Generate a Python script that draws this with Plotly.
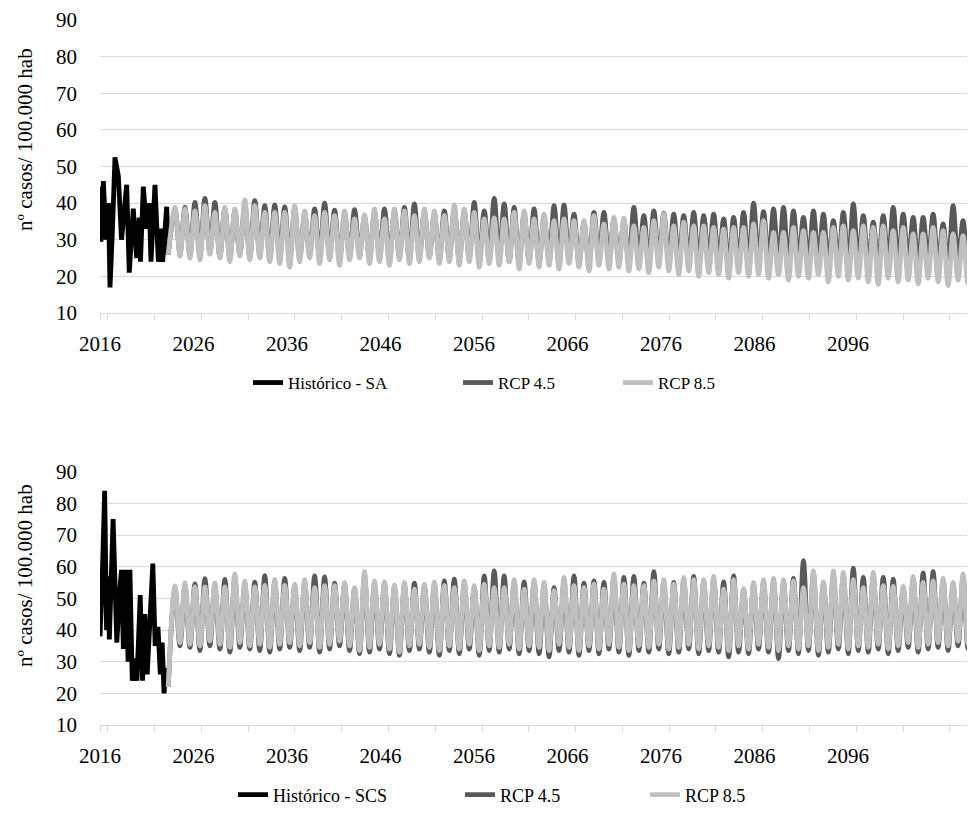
import plotly.graph_objects as go

# ---------------- data ----------------
# Historical (turning points)
hist_sa_t = [2016.0, 2016.1, 2016.36, 2016.64, 2016.9, 2017.07, 2017.35, 2017.6, 2017.96, 2018.3,
             2018.85, 2019.13, 2019.56, 2019.92, 2020.2, 2020.33, 2020.63, 2020.99, 2021.27, 2021.45,
             2021.88, 2022.24, 2022.5, 2022.7, 2023.13, 2023.3]
hist_sa_v = [44.5, 29.5, 46, 30, 40, 17, 34, 52.5, 47.5, 30,
             45, 21, 38.5, 25, 36, 24, 44.5, 33, 40, 24,
             45, 24, 33, 24, 39, 26]

hist_scs_t = [2016.0, 2016.2, 2016.5, 2016.7, 2016.85, 2017.0, 2017.4, 2017.6, 2017.8, 2018.1,
              2018.3, 2018.5, 2018.8, 2019.0, 2019.2, 2019.45, 2019.7, 2019.95, 2020.3, 2020.55,
              2020.8, 2021.05, 2021.25, 2021.65, 2021.9, 2022.2, 2022.45, 2022.65, 2022.85, 2023.05, 2023.3]
hist_scs_v = [38, 52, 84, 40, 57, 37, 75, 48, 36, 52,
              59, 34, 59, 30, 59, 24, 31, 24, 51, 24,
              45, 26, 40, 61, 35, 41, 26, 36, 20, 28, 22]

# Projections: one seasonal peak and one trough per cycle (81 cycles, 2024 -> 2109)
sa_45_peak = [38.0, 38.8, 40.2, 41.3, 40.2, 38.5, 37.8, 39.5, 40.7, 39.3, 39.5, 39.0,
              38.5, 37.0, 38.4, 40.0, 38.1, 37.2, 38.2, 36.2, 37.5, 38.4, 37.8, 38.8, 39.8, 37.6, 37.0, 37.9, 38.5, 37.6, 40.2,
              37.9, 41.3, 39.8, 38.8, 37.0, 38.4, 36.2, 39.3, 39.5, 37.0, 34.6, 37.5, 37.5, 35.5, 35.2, 38.8, 36.6, 37.9, 37.2,
              37.0, 36.6, 37.5, 36.6, 37.0, 35.7, 36.1, 37.5, 40.0, 37.7, 38.4, 38.8, 37.9, 36.1, 37.9, 37.0, 35.2, 37.5, 39.8,
              36.6, 34.8, 36.6, 38.8, 37.0, 36.1, 36.1, 37.0, 34.3, 39.3, 35.2, 33.8]
sa_85_peak = [38.8, 38.4, 37.9, 39.3, 37.5, 38.8, 38.4, 40.9, 39.3, 37.5, 37.5, 37.5,
              39.3, 37.9, 36.6, 37.5, 36.6, 37.9, 35.7, 36.8, 38.4, 35.7, 38.4, 37.9, 36.6, 38.4, 37.9, 36.6, 39.5, 38.4, 37.5,
              35.7, 36.0, 35.7, 37.5, 37.9, 35.7, 37.0, 35.2, 35.7, 35.2, 35.2, 36.6, 34.3, 36.1, 35.9, 33.8, 33.4, 35.2, 37.0,
              33.8, 34.8, 33.8, 33.8, 33.4, 32.9, 33.4, 33.4, 34.3, 35.2, 32.0, 32.0, 33.4, 32.5, 32.0, 32.0, 33.4, 33.8, 32.5,
              33.8, 33.4, 33.8, 32.5, 33.4, 31.6, 31.6, 33.4, 32.5, 31.6, 31.1, 32.0]
sa_45_trough = [26.5, 26.0, 25.5, 26.5, 25.5, 25.0, 26.0, 25.5, 26.0, 25.0, 25.5, 24.5,
                25.0, 26.0, 25.0, 25.5, 24.5, 25.5, 26.0, 25.0, 25.5, 24.5, 25.5, 24.5, 25.0, 25.5, 24.5, 25.0, 24.5, 25.0, 24.0,
                24.5, 25.0, 24.0, 23.5, 24.5, 24.0, 24.5, 23.5, 24.5, 24.0, 23.5, 24.5, 24.0, 24.5, 23.5, 24.0, 23.5, 24.5, 24.0,
                23.5, 24.0, 23.0, 24.0, 23.5, 22.5, 23.5, 23.0, 24.0, 23.5, 23.0, 22.5, 23.5, 23.0, 24.0, 23.0, 23.5, 22.5, 23.5,
                23.0, 22.5, 23.5, 23.0, 23.5, 22.5, 23.5, 23.0, 22.5, 23.5, 23.0, 23.5]
sa_85_trough = [25.5, 25.0, 24.5, 26.0, 25.0, 24.0, 25.5, 24.5, 25.0, 24.0, 23.5, 22.5,
                24.0, 25.0, 23.5, 24.5, 23.0, 24.5, 25.0, 23.5, 24.0, 23.0, 24.5, 23.5, 24.0, 25.0, 23.5, 24.0, 23.0, 24.0, 22.5,
                23.5, 23.0, 24.0, 22.0, 23.5, 22.5, 23.0, 22.0, 23.5, 22.5, 21.5, 23.0, 22.0, 22.5, 21.5, 22.0, 21.0, 22.5, 21.5,
                20.5, 21.5, 20.0, 21.0, 20.5, 19.5, 21.0, 20.0, 20.5, 19.5, 20.5, 19.0, 20.0, 19.5, 20.5, 18.5, 20.0, 19.0, 19.5,
                18.5, 17.8, 19.5, 18.5, 19.0, 18.0, 19.5, 18.5, 17.5, 19.0, 18.0, 18.5]

scs_45_peak = [53.0, 54.0, 54.6, 56.2, 54.0, 56.0, 56.5, 54.5, 55.1, 57.2, 55.0, 56.3,
               53.8, 55.0, 57.1, 56.8, 54.8, 54.2, 52.8, 57.0, 54.5, 54.5, 53.5, 54.2, 54.8, 53.8, 54.3, 55.5, 56.1, 54.6, 53.2,
               57.1, 58.7, 57.1, 55.0, 55.2, 55.0, 54.2, 53.4, 55.5, 57.1, 54.8, 55.5, 55.0, 56.5, 56.6, 56.9, 54.8, 58.4, 55.0,
               55.0, 55.5, 56.9, 55.0, 56.0, 55.2, 57.1, 52.5, 54.2, 55.0, 55.5, 55.0, 56.3, 61.9, 57.5, 54.5, 57.5, 57.0, 59.5,
               56.6, 57.0, 56.6, 56.1, 53.0, 56.0, 58.0, 58.4, 55.5, 54.2, 56.5, 57.0]
scs_85_peak = [53.9, 54.9, 53.6, 53.6, 54.9, 53.6, 57.7, 55.4, 53.6, 54.1, 56.0, 54.1,
               54.5, 55.9, 53.4, 54.0, 54.0, 55.0, 53.4, 58.4, 55.5, 55.2, 54.2, 55.0, 52.9, 54.5, 55.2, 54.0, 53.4, 55.5, 54.0,
               54.5, 53.4, 53.4, 55.9, 52.9, 55.9, 55.0, 52.4, 56.6, 54.0, 53.4, 54.5, 52.9, 57.7, 54.5, 54.0, 54.0, 55.5, 55.9,
               54.5, 56.6, 55.9, 55.9, 56.9, 52.9, 55.9, 53.1, 55.0, 55.9, 56.3, 55.9, 55.5, 53.4, 58.7, 55.2, 58.7, 58.2, 55.9,
               53.4, 58.2, 54.0, 53.8, 53.8, 56.9, 55.0, 55.5, 56.3, 55.0, 57.7, 58.2]
scs_45_trough = [35.0, 34.5, 33.5, 35.0, 34.0, 33.0, 34.5, 34.0, 33.5, 33.0, 34.0, 34.5,
                 33.5, 34.5, 33.0, 34.0, 35.0, 33.5, 32.5, 33.0, 34.0, 32.5, 32.0, 33.5, 34.0, 33.0, 32.0, 33.5, 32.5, 34.0, 32.0,
                 33.5, 33.0, 34.0, 32.5, 33.5, 32.5, 31.5, 33.5, 33.0, 32.0, 33.5, 32.5, 34.0, 33.0, 32.0, 33.5, 33.0, 34.0, 32.5,
                 33.0, 34.0, 32.5, 33.5, 33.0, 31.5, 33.0, 32.5, 34.0, 33.0, 31.0, 33.5, 32.5, 33.5, 32.0, 33.0, 34.0, 32.5, 33.5,
                 33.0, 34.0, 32.5, 33.5, 34.5, 33.0, 34.0, 34.5, 33.5, 35.0, 34.0, 34.5]
scs_85_trough = [36.0, 35.5, 35.0, 36.5, 35.5, 34.5, 36.0, 35.0, 35.5, 34.5, 35.5, 36.0,
                 35.0, 36.0, 34.5, 35.5, 36.5, 35.0, 33.5, 34.5, 35.5, 34.0, 33.0, 35.0, 35.5, 34.5, 33.5, 35.0, 34.0, 35.5, 33.5,
                 35.0, 34.5, 35.5, 34.0, 35.0, 34.5, 33.5, 35.5, 34.5, 33.5, 35.0, 34.0, 35.5, 34.5, 33.5, 35.0, 34.5, 35.5, 34.0,
                 34.5, 35.5, 34.0, 35.0, 34.5, 33.5, 35.0, 34.0, 35.5, 34.5, 33.5, 35.0, 34.0, 35.0, 33.5, 34.5, 35.5, 34.0, 35.0,
                 34.5, 35.5, 34.0, 35.0, 36.0, 34.5, 35.5, 36.0, 35.0, 36.5, 35.5, 36.0]

proj_start = 2023.3
first_peak = 2024.02
cycle_len = 1.0669

year_labels = ["2016", "2026", "2036", "2046", "2056", "2066", "2076", "2086", "2096"]
year_label_pos = [2016, 2026, 2036, 2046, 2056, 2066, 2076, 2086, 2096]
tick_mark_pos = [2016.0, 2016.82, 2021.82, 2026.83, 2031.83, 2036.84, 2041.84, 2046.85, 2051.85,
                 2056.86, 2061.86, 2066.87, 2071.87, 2076.88, 2081.88, 2086.89, 2091.89, 2096.9, 2101.9, 2106.9]
y_ticks = [10, 20, 30, 40, 50, 60, 70, 80, 90]

C_HIST = "#000000"
C_45 = "#595959"
C_85 = "#bfbfbf"
FONT = "Liberation Serif"

# page body has an 8px margin: work in screen coordinates and shift
OFF = 8
W, H = 975 - OFF, 814 - OFF
PLOT_L = 100 - OFF
W_PLOT = W - PLOT_L


def px_x(X):
    return (X - OFF - PLOT_L) / W_PLOT


def px_y(Y):
    return 1 - (Y - OFF) / H


def projection(start_val, peaks, troughs):
    xs, ys = [proj_start], [start_val]
    for i, (p, t) in enumerate(zip(peaks, troughs)):
        xs += [first_peak + i * cycle_len, first_peak + (i + 0.5) * cycle_len]
        ys += [p, t]
    return xs, ys


fig = go.Figure()
LW = 4.8

traces = [
    ("Histórico - SA", hist_sa_t, hist_sa_v, C_HIST, "linear", "x", "y", "legend"),
    ("RCP 4.5",) + tuple(projection(hist_sa_v[-1], sa_45_peak, sa_45_trough)) + (C_45, "spline", "x", "y", "legend2"),
    ("RCP 8.5",) + tuple(projection(hist_sa_v[-1], sa_85_peak, sa_85_trough)) + (C_85, "spline", "x", "y", "legend3"),
    ("Histórico - SCS", hist_scs_t, hist_scs_v, C_HIST, "linear", "x2", "y2", "legend4"),
    ("RCP 4.5",) + tuple(projection(hist_scs_v[-1], scs_45_peak, scs_45_trough)) + (C_45, "spline", "x2", "y2", "legend5"),
    ("RCP 8.5",) + tuple(projection(hist_scs_v[-1], scs_85_peak, scs_85_trough)) + (C_85, "spline", "x2", "y2", "legend6"),
]
for name, x, y, col, shape, xa, ya, lg in traces:
    fig.add_trace(go.Scatter(x=x, y=y, mode="lines", name=name, line=dict(color=col, width=LW, shape=shape),
                             xaxis=xa, yaxis=ya, legend=lg))

xaxis_common = dict(
    range=[2016, 2016 + 875 / 9.35], tickmode="array", tickvals=year_label_pos, ticktext=year_labels,
    showgrid=False, zeroline=False, showline=True, linecolor="#d9d9d9", linewidth=1, automargin=False,
    ticks="", ticklabelstandoff=12, tickfont=dict(family=FONT, size=21, color="#000"),
    minor=dict(tickmode="array", tickvals=tick_mark_pos, ticks="outside", ticklen=6, tickcolor="#d9d9d9",
               tickwidth=1, showgrid=False),
)
yaxis_common = dict(
    range=[10, 90], tickmode="array", tickvals=y_ticks, showgrid=True, gridcolor="#d9d9d9", gridwidth=1,
    zeroline=False, showline=False, ticks="", ticklabelstandoff=22, automargin=False,
    tickfont=dict(family=FONT, size=21, color="#000"),
)

# legend entries: (legend id, line start X, centre Y, font size) in screen pixels
legend_pos = [("legend", 255, 383, 17), ("legend2", 465, 383, 17), ("legend3", 625, 383, 17),
              ("legend4", 240, 795, 18), ("legend5", 467, 795, 18), ("legend6", 652, 795, 18)]
legends = {}
for lid, X, Y, fs in legend_pos:
    legends[lid] = dict(orientation="h", x=px_x(X - 7), xanchor="left", y=px_y(Y), yanchor="middle",
                        font=dict(family=FONT, size=fs, color="#000"), bgcolor="rgba(0,0,0,0)")

fig.update_layout(
    width=W, height=H, margin=dict(l=PLOT_L, r=0, t=0, b=0, autoexpand=False),
    paper_bgcolor="white", plot_bgcolor="white",
    font=dict(family=FONT, size=21, color="#000"),
    xaxis=dict(domain=[0, 1], anchor="y", **xaxis_common),
    yaxis=dict(domain=[px_y(313), px_y(20)], anchor="x", **yaxis_common),
    xaxis2=dict(domain=[0, 1], anchor="y2", **xaxis_common),
    yaxis2=dict(domain=[px_y(725), px_y(471.7)], anchor="x2", **yaxis_common),
    showlegend=True,
    **legends,
)

title = "nº casos/ 100.000 hab"
for yc in [140, 576]:
    fig.add_annotation(text=title, textangle=-90, xref="paper", yref="paper",
                       x=px_x(25), y=px_y(yc), xanchor="center", yanchor="middle",
                       showarrow=False, font=dict(family=FONT, size=21, color="#000"))

fig.write_html("out.html")
